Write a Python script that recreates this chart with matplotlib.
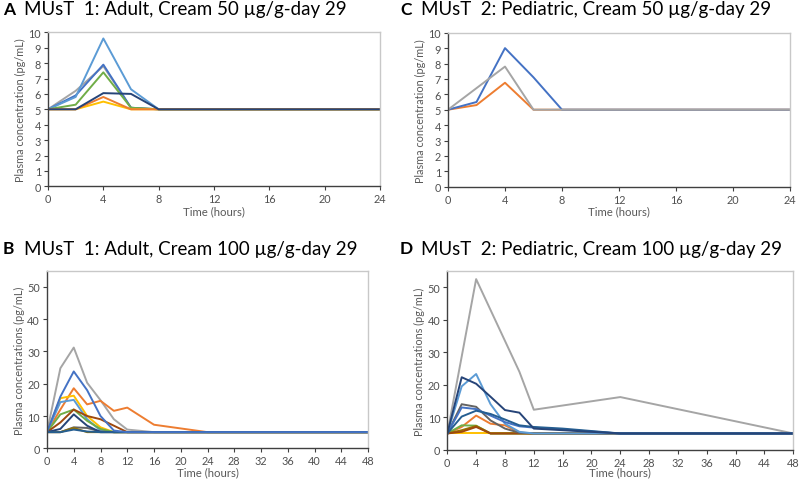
import matplotlib
matplotlib.use("Agg")
import matplotlib.pyplot as plt

W, H = 800, 481
FONT = "Lato"

# ---------------- data ----------------
times_short = [0, 2, 4, 6, 8, 12, 24]
times_long = [0, 2, 4, 6, 8, 10, 12, 16, 24, 48]

# Panel A: MUsT 1 adult 50 ug/g
a_lightblue = [5, 5.8, 9.6, 6.3, 5, 5, 5]
a_blue = [5, 5.9, 7.9, 5.1, 5, 5, 5]
a_gray = [5, 6.2, 7.8, 5.1, 5, 5, 5]
a_green = [5, 5.3, 7.4, 5.1, 5, 5, 5]
a_orange = [5, 5, 5.8, 5, 5, 5, 5]
a_yellow = [5, 5, 5.5, 5, 5, 5, 5]
a_navy = [5, 5, 6.05, 6.0, 5, 5, 5]

# Panel C: MUsT 2 pediatric 50 ug/g
c_blue = [5, 5.5, 9.0, 7.1, 5, 5, 5]
c_orange = [5, 5.3, 6.75, 5, 5, 5, 5]
c_gray = [5, 6.4, 7.8, 5, 5, 5, 5]

# Panel B: MUsT 1 adult 100 ug/g
b_gray = [5, 24.8, 31.2, 20.3, 14.9, 9.0, 5.8, 5, 5, 5]
b_orange = [5, 12, 18.6, 13.6, 14.7, 11.6, 12.6, 7.3, 5, 5]
b_blue = [5, 16, 23.8, 18, 10, 5.5, 5, 5, 5, 5]
b_yellow = [5, 15.5, 16.3, 10, 6.5, 5, 5, 5, 5, 5]
b_lightblue = [5, 14.3, 15, 9, 5.5, 5, 5, 5, 5, 5]
b_green = [5, 10.5, 12, 8.5, 6, 5, 5, 5, 5, 5]
b_brown = [5, 8, 12, 10, 9, 7, 5, 5, 5, 5]
b_navy = [5, 6, 10.5, 7, 5, 5, 5, 5, 5, 5]
b_darkgray = [5, 5, 6.5, 6.3, 5.2, 5, 5, 5, 5, 5]
b_darkyellow = [5, 5, 6.3, 5, 5, 5, 5, 5, 5, 5]
b_steel = [5, 5, 5.8, 5.2, 5, 5, 5, 5, 5, 5]

# Panel D: MUsT 2 pediatric 100 ug/g
d_gray = [5, 28.7, 52.5, 43, 33.5, 24, 12.3, 13.6, 16.2, 5]
d_navy = [5, 22.3, 20.3, 16.3, 12.2, 11.4, 6.5, 6, 5, 5]
d_lightblue = [5, 19.5, 23.3, 14, 8, 5.5, 5, 5, 5, 5]
d_darkgray = [5, 14, 13.2, 9, 6.5, 5.2, 5, 5, 5, 5]
d_blue = [5, 13, 12.5, 10.5, 8.5, 7.2, 6.8, 6.2, 5, 5]
d_steel = [5, 10.2, 12, 11, 9.3, 7.5, 7, 6.5, 5, 5]
d_orange = [5, 7, 10.5, 8, 7.5, 5.3, 5, 5, 5, 5]
d_green = [5, 7.5, 7.4, 5, 5, 5, 5, 5, 5, 5]
d_brown = [5, 5.5, 7, 5, 5, 5, 5, 5, 5, 5]
d_darkyellow = [5, 6, 7.3, 5, 5, 5, 5, 5, 5, 5]
d_yellow = [5, 5, 5, 5, 5, 5, 5, 5, 5, 5]

xticks_short = [0, 4, 8, 12, 16, 20, 24]
xticks_long = [0, 4, 8, 12, 16, 20, 24, 28, 32, 36, 40, 44, 48]
yticks_small = [0, 1, 2, 3, 4, 5, 6, 7, 8, 9, 10]
yticks_big = [0, 10, 20, 30, 40, 50]

titles = {
    "A": "MUsT  1: Adult, Cream 50 \u00b5g/g-day 29",
    "C": "MUsT  2: Pediatric, Cream 50 \u00b5g/g-day 29",
    "B": "MUsT  1: Adult, Cream 100 \u00b5g/g-day 29",
    "D": "MUsT  2: Pediatric, Cream 100 \u00b5g/g-day 29",
}

# colours (Office palette)
BLUE = "#4472C4"; ORANGE = "#ED7D31"; GRAY = "#A5A5A5"; YELLOW = "#FFC000"
LBLUE = "#5B9BD5"; GREEN = "#70AD47"; NAVY = "#264478"; BROWN = "#9E480E"
DGRAY = "#636363"; DYELLOW = "#997300"; STEEL = "#255E91"

fig = plt.figure(figsize=(W / 100, H / 100), dpi=100)
fig.patch.set_facecolor("white")


def make_ax(l, r, t, b):
    ax = fig.add_axes([l / W, 1 - b / H, (r - l) / W, (b - t) / H])
    for s in ("top", "right"):
        ax.spines[s].set_color("#C8C8C8")
        ax.spines[s].set_linewidth(1.0)
    for s in ("left", "bottom"):
        ax.spines[s].set_color("#404040")
        ax.spines[s].set_linewidth(1.0)
    ax.tick_params(direction="out", length=3, width=0.8, color="#404040",
                   labelsize=7.8, labelcolor="#505050", pad=2)
    return ax


def finish(ax, xt, yt, xmax, ymax, ylabel, xlab_y):
    ax.set_xlim(0, xmax)
    ax.set_ylim(0, ymax)
    ax.set_xticks(xt)
    ax.set_yticks(yt)
    for lab in ax.get_xticklabels() + ax.get_yticklabels():
        lab.set_fontfamily(FONT)
    ax.set_ylabel(ylabel, fontsize=7.8, color="#595959", family=FONT, labelpad=2)
    pos = ax.get_position()
    fig.text(pos.x0 + pos.width / 2, 1 - xlab_y / H, "Time (hours)", ha="center",
             va="center", fontsize=8.2, color="#595959", family=FONT)


def title(x, y, letter, text):
    fig.text(x / W, 1 - y / H, letter, fontsize=12.5, fontweight="bold",
             family=FONT, va="center", ha="left")
    fig.text((x + 21) / W, 1 - y / H, text, fontsize=13.5, family=FONT,
             va="center", ha="left")


LW = 1.4

# Panel A
ax = make_ax(48, 380, 33.3, 187.3)
for ys, c in [(a_gray, GRAY), (a_blue, BLUE), (a_lightblue, LBLUE), (a_green, GREEN),
              (a_yellow, YELLOW), (a_orange, ORANGE), (a_navy, NAVY)]:
    ax.plot(times_short, ys, color=c, lw=LW)
finish(ax, xticks_short, yticks_small, 24, 10, "Plasma concentration (pg/mL)", 212)
title(3, 10, "A", titles["A"])

# Panel C
ax = make_ax(448, 790, 33.7, 187.7)
for ys, c in [(c_orange, ORANGE), (c_blue, BLUE), (c_gray, GRAY)]:
    ax.plot(times_short, ys, color=c, lw=LW)
finish(ax, xticks_short, yticks_small, 24, 10, "Plasma concentration (pg/mL)", 212)
title(400, 10, "C", titles["C"])

# Panel B
ax = make_ax(47, 368, 271.7, 449.3)
for ys, c in [(b_gray, GRAY), (b_orange, ORANGE), (b_yellow, YELLOW), (b_lightblue, LBLUE),
              (b_green, GREEN), (b_brown, BROWN), (b_darkgray, DGRAY), (b_darkyellow, DYELLOW),
              (b_navy, NAVY), (b_steel, STEEL), (b_blue, BLUE)]:
    ax.plot(times_long, ys, color=c, lw=LW)
finish(ax, xticks_long, yticks_big, 48, 55, "Plasma concentrations (pg/mL)", 473)
title(3, 249, "B", titles["B"])

# Panel D
ax = make_ax(447.3, 793.3, 272, 450.7)
for ys, c in [(d_gray, GRAY), (d_yellow, YELLOW), (d_orange, ORANGE), (d_green, GREEN),
              (d_darkyellow, DYELLOW), (d_brown, BROWN), (d_darkgray, DGRAY),
              (d_lightblue, LBLUE), (d_blue, BLUE), (d_steel, STEEL), (d_navy, NAVY)]:
    ax.plot(times_long, ys, color=c, lw=LW)
finish(ax, xticks_long, yticks_big, 48, 55, "Plasma concentrations (pg/mL)", 473)
title(400, 249, "D", titles["D"])

fig.savefig("out.png", dpi=100, facecolor="white")
